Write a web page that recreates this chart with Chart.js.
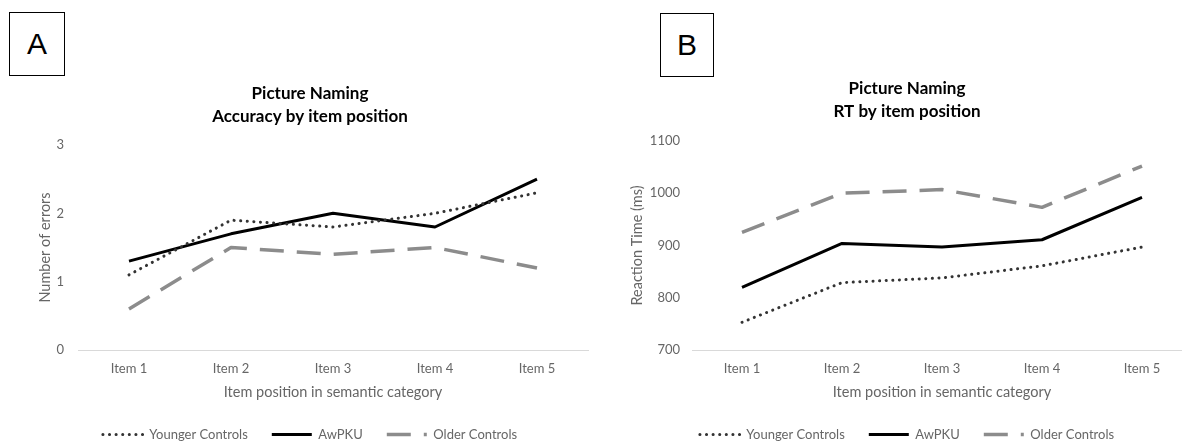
<!DOCTYPE html>
<html>
<head>
<meta charset="utf-8">
<script src="https://cdn.jsdelivr.net/npm/chart.js@4.4.1/dist/chart.umd.min.js"></script>
<style>
  html, body { margin: 0; padding: 0; background: #fff; overflow: hidden; width: 1182px; height: 441px; }
  canvas { position: absolute; top: 0; }
  .letter { position: absolute; box-sizing: border-box; border: 1.5px solid #000; font: 30px "Liberation Sans", Arial, sans-serif; text-align: center; color: #000; }
</style>
</head>
<body>
<div class="letter" style="left:9px;top:12px;width:56px;height:64px;line-height:62px;">A</div>
<div class="letter" style="left:660px;top:13px;width:54px;height:64px;line-height:62px;">B</div>
<canvas id="chartA" width="620" height="460" style="left:0px"></canvas>
<canvas id="chartB" width="570" height="460" style="left:622px"></canvas>
<script>
// values
const categories = ['Item 1', 'Item 2', 'Item 3', 'Item 4', 'Item 5'];
const seriesNames = ['Younger Controls', 'AwPKU', 'Older Controls'];

const accYounger = [1.1, 1.9, 1.8, 2.0, 2.3];
const accAwPKU = [1.3, 1.7, 2.0, 1.8, 2.5];
const accOlder = [0.6, 1.5, 1.4, 1.5, 1.2];
const accTicks = [0, 1, 2, 3];

const rtYounger = [753, 829, 838, 861, 897];
const rtAwPKU = [820, 904, 897, 911, 992];
const rtOlder = [925, 1000, 1007, 973, 1052];
const rtTicks = [700, 800, 900, 1000, 1100];

const axisGrey = '#666666';
Chart.defaults.font.family = 'Lato';

function lineSets(younger, awpku, older) {
    const base = { pointRadius: 0, tension: 0, fill: false, borderJoinStyle: 'round' };
    return [
        Object.assign({}, base, { label: seriesNames[0], data: younger, borderColor: '#333333', borderWidth: 3, borderDash: [0.1, 6.5], borderCapStyle: 'round' }),
        Object.assign({}, base, { label: seriesNames[1], data: awpku, borderColor: '#000000', borderWidth: 3 }),
        Object.assign({}, base, { label: seriesNames[2], data: older, borderColor: '#8c8c8c', borderWidth: 3.5, borderDash: [24, 13] })
    ];
}

// legend samples should keep the dataset dash pattern
function legendLabels(chart) {
    const items = Chart.defaults.plugins.legend.labels.generateLabels(chart);
    items.forEach(function (item, i) {
        const ds = chart.data.datasets[i];
        item.lineDash = ds.borderDash || [];
        item.lineCap = ds.borderCapStyle || 'butt';
        item.lineWidth = ds.borderWidth;
        item.strokeStyle = ds.borderColor;
    });
    return items;
}

function render(canvasId, o) {
    const ctx = document.getElementById(canvasId);
    const scales = {
        x: {
            offset: true,
            grid: { display: false, drawTicks: false },
            border: { display: true, color: '#d9d9d9', width: 1 },
            ticks: { padding: 11, color: axisGrey, font: { size: 13 }, maxRotation: 0 },
            title: {
                display: true,
                text: 'Item position in semantic category',
                color: axisGrey,
                font: { size: 14.5 },
                padding: { top: 4, bottom: 3.3 }
            },
            afterFit: function (scale) { scale.height = 54; }
        },
        y: {
            min: o.ticks[0],
            max: o.ticks[o.ticks.length - 1],
            grid: { display: false, drawTicks: false },
            border: { display: false },
            ticks: {
                stepSize: o.ticks[1] - o.ticks[0],
                padding: o.tickPad,
                color: axisGrey,
                font: { size: 13 },
                callback: function (v) { return String(v); }
            },
            title: {
                display: true,
                text: o.yTitle,
                color: axisGrey,
                font: { size: 14.5 },
                padding: { top: o.yTitlePad, bottom: 0 }
            },
            afterFit: function (scale) { scale.width = o.yWidth; }
        }
    };
    if (o.rightGap) {
        scales.gap = {
            type: 'linear',
            position: 'right',
            grid: { display: false, drawTicks: false },
            border: { display: false },
            ticks: { display: false },
            afterFit: function (scale) { scale.width = o.rightGap; }
        };
    }
    new Chart(ctx, {
        type: 'line',
        data: { labels: categories, datasets: lineSets(o.younger, o.awpku, o.older) },
        options: {
            responsive: false,
            animation: false,
            layout: { padding: o.padding },
            plugins: {
                title: {
                    display: true,
                    text: o.title,
                    color: '#000',
                    font: { size: 17, weight: 'bold', lineHeight: 23 / 17 },
                    padding: o.titlePadding
                },
                legend: {
                    position: 'bottom',
                    labels: {
                        usePointStyle: true,
                        pointStyle: 'line',
                        pointStyleWidth: 40,
                        padding: 24,
                        color: axisGrey,
                        font: { size: 13 },
                        generateLabels: legendLabels
                    }
                },
                tooltip: { enabled: false }
            },
            scales: scales
        }
    });
}

render('chartA', {
    younger: accYounger, awpku: accAwPKU, older: accOlder, ticks: accTicks,
    title: ['Picture Naming', 'Accuracy by item position'],
    yTitle: 'Number of errors',
    padding: { top: 70, left: 0, right: 0, bottom: 9 },
    titlePadding: { top: 12.5, bottom: 16.5 },
    tickPad: 14, yTitlePad: 37, yWidth: 78, rightGap: 32
});

render('chartB', {
    younger: rtYounger, awpku: rtAwPKU, older: rtOlder, ticks: rtTicks,
    title: ['Picture Naming', 'RT by item position'],
    yTitle: 'Reaction Time (ms)',
    padding: { top: 66, left: 0, right: 0, bottom: 9 },
    titlePadding: { top: 11.5, bottom: 17.5 },
    tickPad: 12, yTitlePad: 7, yWidth: 70, rightGap: 0
});
</script>
</body>
</html>
